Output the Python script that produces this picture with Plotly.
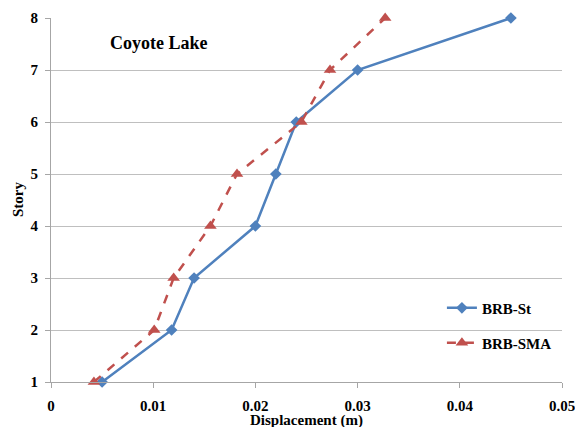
import plotly.graph_objects as go

stories = [1, 2, 3, 4, 5, 6, 7, 8]
brb_st = [0.0050, 0.0118, 0.0140, 0.0200, 0.0220, 0.0240, 0.0300, 0.0450]
brb_sma = [0.0042, 0.0101, 0.0120, 0.0156, 0.0182, 0.0245, 0.0273, 0.0327]
x_ticks = [0, 0.01, 0.02, 0.03, 0.04, 0.05]
x_tick_text = ["0", "0.01", "0.02", "0.03", "0.04", "0.05"]
y_ticks = [1, 2, 3, 4, 5, 6, 7, 8]

FONT = "Liberation Serif"

fig = go.Figure()
fig.add_trace(go.Scatter(
    x=brb_st, y=stories, mode="lines+markers", name="<b>BRB-St</b>",
    line=dict(color="#4F81BD", width=2.5),
    marker=dict(symbol="diamond", size=9, color="#4F81BD"),
    cliponaxis=False, legend="legend",
))
fig.add_trace(go.Scatter(
    x=brb_sma, y=stories, mode="lines+markers", name="<b>BRB-SMA</b>",
    line=dict(color="#C0504D", width=2.5, dash="dash"),
    marker=dict(symbol="triangle-up", size=11, color="#C0504D"),
    cliponaxis=False, legend="legend2",
))

legend_common = dict(xanchor="left", yanchor="middle",
                     font=dict(family=FONT, size=15, color="black"),
                     bgcolor="rgba(0,0,0,0)")

fig.update_layout(
    width=575, height=427,
    margin=dict(l=51, r=13, t=18, b=45),
    paper_bgcolor="white", plot_bgcolor="white",
    font=dict(family=FONT, size=15, color="black"),
    showlegend=True,
    legend=dict(x=0.765, y=0.203, **legend_common),
    legend2=dict(x=0.765, y=0.107, **legend_common),
    annotations=[
        dict(text="<b>Coyote Lake</b>", x=(108 - 51) / 511, y=(382 - 43) / 364,
             xref="paper", yref="paper", xanchor="left", yanchor="middle",
             showarrow=False, font=dict(family=FONT, size=18, color="black")),
        dict(text="<b>Displacement (m)</b>", x=(306 - 51) / 511, y=-(420 - 382) / 364,
             xref="paper", yref="paper",
             xanchor="center", yanchor="middle", showarrow=False,
             font=dict(family=FONT, size=15, color="black")),
        dict(text="<b>Story</b>", x=-(51 - 18) / 511, y=0.5, xref="paper", yref="paper",
             xanchor="center", yanchor="middle", showarrow=False, textangle=-90,
             font=dict(family=FONT, size=15, color="black")),
    ],
)

fig.update_xaxes(
    range=[0, 0.05], tickvals=x_ticks, ticktext=["<b>%s</b>" % t for t in x_tick_text],
    showgrid=False, showline=True, linecolor="#A6A6A6", linewidth=1,
    ticks="outside", ticklen=5, tickcolor="#A6A6A6", automargin=False,
    tickfont=dict(family=FONT, size=15, color="black"), ticklabelstandoff=5,
    ticklabeloverflow="allow",
    zeroline=False,
)
fig.update_yaxes(
    range=[1, 8], tickvals=y_ticks, ticktext=["<b>%d</b>" % t for t in y_ticks],
    showgrid=True, gridcolor="#BFBFBF", gridwidth=1,
    showline=True, linecolor="#A6A6A6", linewidth=1,
    ticks="outside", ticklen=5, tickcolor="#A6A6A6", automargin=False,
    tickfont=dict(family=FONT, size=15, color="black"), ticklabelstandoff=4,
    ticklabeloverflow="allow",
    zeroline=False,
)

fig.write_html("out.html", config={"displayModeBar": False},
               post_script="document.body.style.margin='0px';document.body.style.overflow='hidden';")
